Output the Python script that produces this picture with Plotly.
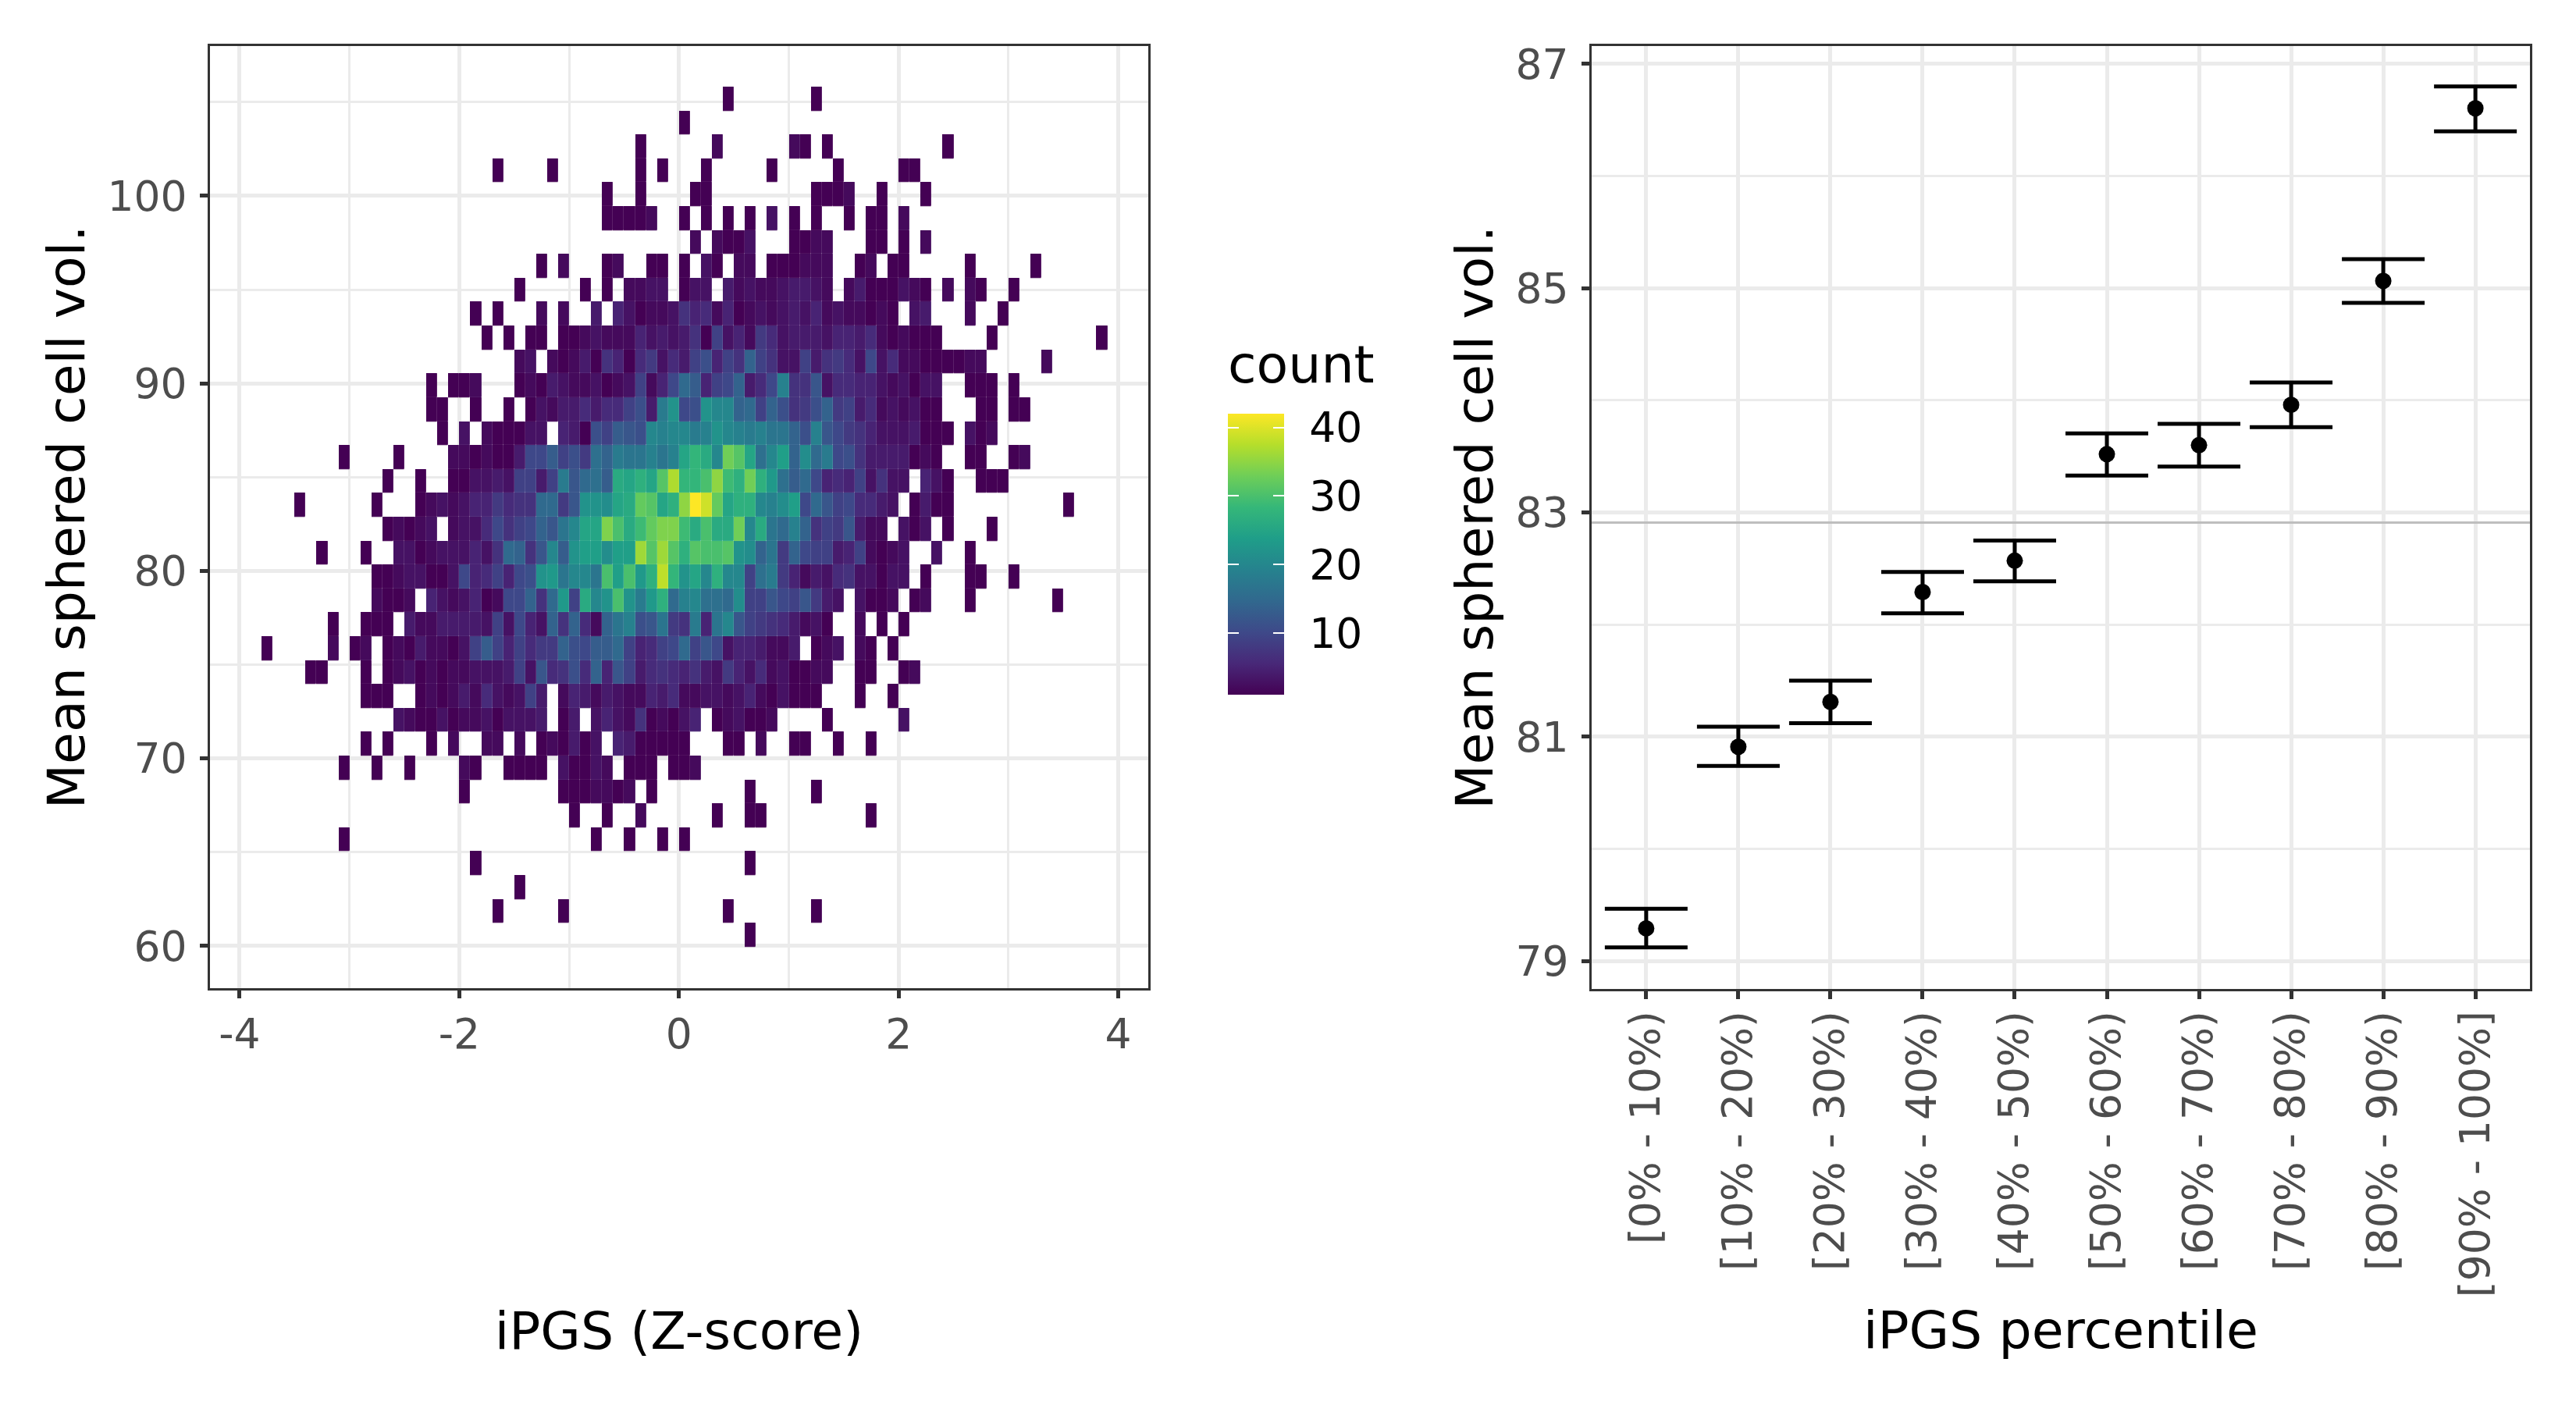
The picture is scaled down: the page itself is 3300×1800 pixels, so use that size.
import plotly.graph_objects as go

W, H = 3300, 1800

# ---------- left panel data: 2D bin counts, one list of (first column, counts) runs per row, top row first
bin_width = 0.1
bin_height = 1.274
top_edge = 105.82
count_rows = [
    [(4,[1]),(12,[1])],
    [(0,[1])],
    [(-4,[1]),(3,[2]),(10,[2,1]),(13,[1]),(24,[1])],
    [(-17,[1]),(-12,[1]),(-4,[1]),(-2,[1]),(2,[1]),(8,[1]),(14,[1]),(20,[1,1])],
    [(-7,[1]),(-4,[1]),(1,[1,1]),(12,[1,1,1,2]),(18,[1]),(22,[1])],
    [(-7,[1,1,1,1,2]),(0,[1]),(2,[1]),(4,[1]),(6,[1]),(8,[3]),(10,[1]),(12,[1]),(15,[1]),(17,[1,1]),(20,[2])],
    [(1,[2]),(3,[2,1,1,3]),(10,[1,1,2,2]),(17,[1,1]),(20,[1]),(22,[2])],
    [(-13,[1]),(-11,[2]),(-7,[1,2]),(-3,[1,1]),(0,[1]),(2,[3,1]),(5,[2,2]),(8,[1,1,1,2,2,2]),(16,[1,2]),(19,[1,1]),(26,[1]),(32,[1])],
    [(-15,[1]),(-9,[1]),(-7,[1]),(-5,[2,2,3,3]),(0,[1,3,3]),(4,[4,2,3,2,2,3,4,4,3,2]),(15,[2,4,1,1,1,3,2,1]),(24,[2]),(26,[2,1]),(30,[1])],
    [(-19,[1]),(-17,[1]),(-13,[2]),(-11,[2]),(-8,[4]),(-6,[5,3,1,2,2,3,7,5,6,2,5,1,2,3,2,3,4,3,5,2,3,2,2,1,2,1]),(21,[3,4]),(26,[2]),(29,[1])],
    [(-18,[1]),(-16,[1]),(-14,[1,1]),(-11,[1,1,2,3,2,2,2,5,3,4,3,4,7,1,9,3,5,2,8,6,3,4,4,4,3,5,5,4,6,2,1,2,1,1,1]),(28,[1]),(38,[1])],
    [(-15,[2,3]),(-12,[2,1,2,4,1,7,5,1,6,8,3,6,4,9,11,5,9,7,14,9,7,3,3,9,4,7,8,6,3,10,3,6,2,2,1,1,1,1,2,2]),(33,[2])],
    [(-23,[1]),(-21,[1,1,2]),(-15,[1,2,1,4,3,2,2,3,1,2,3,9,2,5,10,15,13,5,9,10,14,4,6,10,19,7,7,12,3,6,6,5,5,3,2,3,1,3,3]),(26,[1,1,1]),(30,[1])],
    [(-23,[1,1]),(-19,[1]),(-16,[1]),(-14,[1,3,2,4,4,6,4,6,6,9,11,4,18,22,10,11,22,20,20,14,15,9,14,11,7,8,11,14,8,9,4,6,2,3,2,3,1,1]),(27,[1,1]),(30,[1,1])],
    [(-22,[1]),(-20,[3]),(-18,[2,1,1,1,3,3]),(-11,[5,4,1,11,9,13,12,11,20,19,20,20,18,19,22,20,19,18,19,17,17,14,11,19,12,10,8,7,5,3,3,3,4,1,1,1]),(26,[3,1,2])],
    [(-31,[1]),(-26,[1]),(-21,[2,2,1,2,1,1,4,10,10,13,9,11,8,16,14,18,17,17,19,17,19,25,28,26,20,33,31,25,16,20,24,14,21,15,18,10,11,7,4,4,4,4,1,2,1]),(26,[1,1]),(30,[1,2])],
    [(-27,[1]),(-24,[1]),(-21,[1,1,3,3,4,3,9,9,4,9,18,12,15,16,13,26,25,27,25,31,37,28,28,30,35,29,27,33,27,23,16,13,15,10,5,6,5,9,3,7,3,3]),(22,[5,3,1]),(27,[1,1,1])],
    [(-35,[1]),(-28,[1]),(-24,[1,2,3,2,3,5,5,8,6,7,7,15,15,8,12,22,22,21,25,26,32,31,25,27,35,42,39,32,25,27,27,20,19,21,24,10,15,12,9,10,6,6,4,3]),(21,[1,4,1,1]),(35,[1])],
    [(-27,[1,2,1,2,3]),(-21,[2,3,3,6,10,7,9,10,14,12,17,20,25,25,34,30,26,29,32,34,34,29,26,30,26,26,33,20,26,17,15,19,14,7,9,8,12,4,2,2]),(20,[3,1,3]),(24,[1]),(28,[1])],
    [(-33,[1]),(-29,[1]),(-26,[3,3,1,2,3,3,3,5,3,7,15,14,7,12,20,13,22,24,24,21,24,24,36,31,36,31,27,31,30,30,31,22,21,14,17,8,14,10,9,9,4,5,9,2,1,2,3]),(23,[3]),(26,[1])],
    [(-28,[1,1,2,3,3,1,1,3,10,5,6,9,5,10,11,22,23,17,20,20,17,30,24,30,23,27,38,28,22,25,20,27,20,20,9,16,18,8,5,2,4,3,6,7,3,3,1,3,3]),(22,[1]),(26,[1,1]),(30,[1])],
    [(-28,[2,1,1,2]),(-23,[5,3,2,3,5,1,2,10,10,14,7,15,23,9,26,20,22,30,22,18,23,27,15,19,20,16,16,15,21,9,9,12,10,9,12,8,4,3]),(16,[3,1,1,2]),(21,[1,2]),(26,[1]),(34,[1])],
    [(-32,[1]),(-29,[1,1,1]),(-25,[4,2,2,4,4,4,4,3,9,3,10,5,3,14,7,14,6,2,14,17,19,11,12,17,8,7,18,5,17,20,12,9,8,7,6,4,2,3,1]),(16,[2]),(18,[1]),(20,[1])],
    [(-38,[1]),(-32,[2]),(-30,[1,2]),(-27,[1,2,1,4,2,2,1,3,9,13,9,5,9,6,8,8,14,11,10,13,13,15,9,5,6,9,10,15,9,12,10,3,5,5,4,2,2,4]),(12,[1,2,3]),(16,[2,1]),(19,[1])],
    [(-34,[1,1]),(-29,[1]),(-27,[1,2,3,1,2,1,2,2,3,3,3,4,9,3,12,6,7,11,6,14,5,12,9,4,6,7,6,5,7,4,3,8,5,3,6,2,3,1,1,2,2]),(16,[1,1]),(20,[1,2])],
    [(-29,[1,1,1]),(-24,[1,2,1,2,4,2,6,3,2,3,9,4]),(-11,[2,5,4,2,4,3,2,2,5,4,6,2,2,3,3,2,3,5,2,1,3,1,1,1]),(16,[1]),(19,[1])],
    [(-26,[3,2,1,1,3,1,2,2,3,1,3,3,3,4]),(-11,[1,4]),(-8,[3,5,3,2,7,1,2,1,3,5]),(3,[1,2,3,1,1,2]),(13,[1]),(20,[3])],
    [(-29,[1]),(-27,[1]),(-23,[1]),(-21,[2]),(-18,[2,2]),(-15,[2]),(-13,[1,2,1,4,1,3]),(-6,[5,4,1,1,1,1,1]),(4,[1,1]),(7,[2]),(10,[1,1]),(14,[1]),(17,[1])],
    [(-31,[1]),(-28,[1]),(-25,[1]),(-20,[2,1]),(-16,[1,1,1,1]),(-11,[3,1,1,3,2]),(-5,[1,1,1]),(-1,[1,1,2])],
    [(-20,[1]),(-11,[1,1,1,2,2,1,2]),(-3,[1]),(6,[1]),(12,[1])],
    [(-10,[1]),(-7,[1]),(-4,[2]),(3,[1]),(6,[1,1]),(17,[1])],
    [(-31,[1]),(-8,[1]),(-5,[1]),(-2,[1]),(0,[1])],
    [(-19,[1]),(6,[1])],
    [(-15,[1])],
    [(-17,[1]),(-11,[1]),(4,[1]),(12,[1])],
    [(6,[1])],
]
first_col, last_col = -40, 40
count_min, count_max = 1, 42
legend_ticks = [10, 20, 30, 40]

# ---------- right panel data
percentile_labels = ["[0% - 10%)", "[10% - 20%)", "[20% - 30%)", "[30% - 40%)", "[40% - 50%)",
                     "[50% - 60%)", "[60% - 70%)", "[70% - 80%)", "[80% - 90%)", "[90% - 100%]"]
mean_vol = [79.29, 80.91, 81.31, 82.29, 82.57, 83.52, 83.60, 83.96, 85.065, 86.605]
upper_vol = [79.465, 81.09, 81.50, 82.47, 82.75, 83.705, 83.79, 84.16, 85.26, 86.80]
lower_vol = [79.12, 80.74, 81.12, 82.10, 82.386, 83.33, 83.41, 83.76, 84.87, 86.40]
overall_mean = 82.91

# ---------- build the grid
x_centers = [(c + 0.5) * bin_width for c in range(first_col, last_col)]
y_centers = [top_edge - (r + 0.5) * bin_height for r in range(len(count_rows))]
z = []
for row in count_rows:
    line = [None] * (last_col - first_col)
    for start, vals in row:
        for i, v in enumerate(vals):
            if v:
                line[start + i - first_col] = v
    z.append(line)

INK = "#4d4d4d"
BORDER = "#333333"
GRID = "#ebebeb"
TITLE_SIZE = 66.5
TICK_SIZE = 53.5
FONT = "DejaVu Sans"

def bar(**kw):
    base = dict(thicknessmode="pixels", lenmode="pixels", len=360, xref="paper", yref="paper",
                y=1 - 890 / H, yanchor="bottom", xanchor="left", xpad=0, ypad=0,
                outlinewidth=0, borderwidth=0, tickvals=legend_ticks)
    base.update(kw)
    return base

def heat(colorbar, gap=0.5):
    return go.Heatmap(x=x_centers, y=y_centers, z=z, zmin=count_min, zmax=count_max,
                      colorscale="Viridis", xgap=gap, ygap=gap, hoverongaps=False,
                      colorbar=colorbar, xaxis="x", yaxis="y")

fig = go.Figure()
fig.add_trace(heat(bar(x=1573 / W, thickness=72, ticks="outside", ticklen=22,
                       tickcolor="rgba(0,0,0,0)", tickwidth=1,
                       tickfont=dict(size=TICK_SIZE, color="#000000", family=FONT))))
fig.add_trace(heat(bar(x=1573 / W, thickness=14, ticks="inside", ticklen=14, tickwidth=1.5,
                       tickcolor="#ffffff", showticklabels=False)))
fig.add_trace(heat(bar(x=1631 / W, thickness=14, ticks="inside", ticklen=14, tickwidth=1.5,
                       tickcolor="#ffffff", showticklabels=False)))

fig.add_trace(go.Scatter(
    x=percentile_labels, y=mean_vol, mode="markers",
    marker=dict(color="#000000", size=21),
    error_y=dict(type="data", symmetric=False,
                 array=[u - m for u, m in zip(upper_vol, mean_vol)],
                 arrayminus=[m - l for l, m in zip(lower_vol, mean_vol)],
                 color="#000000", thickness=5, width=53),
    xaxis="x2", yaxis="y2", showlegend=False))

def axis(**kw):
    base = dict(showline=True, mirror=True, linecolor=BORDER, linewidth=2.6,
                ticks="outside", ticklen=10, tickwidth=5, tickcolor=BORDER,
                tickfont=dict(size=TICK_SIZE, color=INK, family=FONT),
                showgrid=True, gridcolor=GRID, gridwidth=5, zeroline=False, automargin=False)
    base.update(kw)
    return base

def minor(vals):
    return dict(tickvals=vals, showgrid=True, gridcolor=GRID, gridwidth=2.5, ticks="")

def title(text, standoff):
    return dict(text=text, standoff=standoff, font=dict(size=TITLE_SIZE, color="#000000", family=FONT))

fig.update_layout(
    width=W, height=H, margin=dict(l=0, r=0, t=0, b=0, pad=0),
    paper_bgcolor="#ffffff", plot_bgcolor="#ffffff", showlegend=False,
    font=dict(family=FONT),
    xaxis=axis(domain=[269 / W, 1471 / W], range=[-4.27, 4.273], tickvals=[-4, -2, 0, 2, 4],
               ticktext=["-4", "-2", "0", "2", "4"], minor=minor([-3, -1, 1, 3]),
               title=title("iPGS (Z-score)", 327), anchor="y"),
    yaxis=axis(domain=[1 - 1266 / H, 1 - 59 / H], range=[57.75, 107.99], tickvals=[60, 70, 80, 90, 100],
               ticklabelstandoff=6, minor=minor([65, 75, 85, 95, 105]),
               title=title("Mean sphered cell vol.", 8), anchor="x"),
    xaxis2=axis(domain=[2039 / W, 3241 / W], type="category", categoryorder="array",
                categoryarray=percentile_labels, range=[-0.592, 9.592], tickangle=-90, ticklabelstandoff=-6,
                title=title("iPGS percentile", 20), anchor="y2"),
    yaxis2=axis(domain=[1 - 1267 / H, 1 - 59 / H], range=[78.75, 87.16], tickvals=[79, 81, 83, 85, 87],
                ticklabelstandoff=6, minor=minor([80, 82, 84, 86]),
                title=title("Mean sphered cell vol.", 8), anchor="x2"),
    shapes=[dict(type="line", xref="x2 domain", yref="y2", x0=0, x1=1, y0=overall_mean, y1=overall_mean,
                 line=dict(color="#bebebe", width=3), layer="above")],
    annotations=[dict(text="count", xref="paper", yref="paper", x=1575 / W, y=1 - 467 / H,
                      xanchor="left", yanchor="middle", showarrow=False, xshift=-4,
                      font=dict(size=TITLE_SIZE, color="#000000", family=FONT))],
)

fig.write_html("out.html", post_script="document.body.style.margin='0';",
               config={"displayModeBar": False})
